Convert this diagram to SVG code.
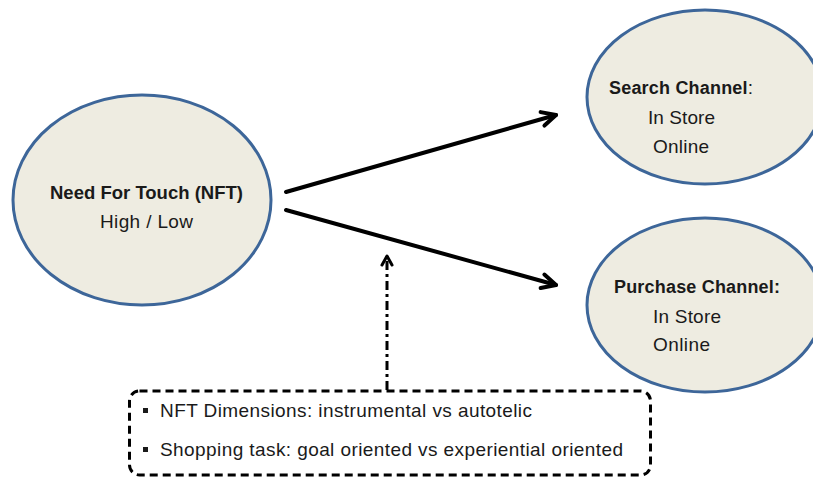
<svg xmlns="http://www.w3.org/2000/svg" width="813" height="477" viewBox="0 0 813 477">
<style>
.node ellipse{fill:#EEECE1;stroke:#3D6699;stroke-width:3}
text{font-family:"Liberation Sans",Arial,sans-serif;font-size:19px;fill:#1a1a1a}
.b{font-weight:bold;font-size:18px}
.conn{fill:none;stroke:#000;stroke-width:4;stroke-linecap:round}
.dd{fill:none;stroke:#000;stroke-width:3;stroke-dasharray:9 4 3 4}
.box{fill:none;stroke:#000;stroke-width:3;stroke-dasharray:8 5}
</style>
<defs>
<marker id="ah" markerUnits="userSpaceOnUse" viewBox="-20 -12 24 24" refX="0" refY="0" markerWidth="24" markerHeight="24" orient="auto">
<path d="M -14 -7 L 0 0 L -14 7" fill="none" stroke="#000" stroke-width="4" stroke-linecap="round" stroke-linejoin="round"/>
</marker>
<marker id="ah2" markerUnits="userSpaceOnUse" viewBox="-16 -10 20 20" refX="0" refY="0" markerWidth="20" markerHeight="20" orient="auto">
<path d="M -9 -5 L 0 0 L -9 5" fill="none" stroke="#000" stroke-width="3" stroke-linecap="round" stroke-linejoin="round"/>
</marker>
</defs>
<g id="connectors">
<line class="conn" x1="286" y1="192" x2="556" y2="115" marker-end="url(#ah)"/>
<line class="conn" x1="286" y1="210" x2="556" y2="285" marker-end="url(#ah)"/>
<line class="dd" x1="387" y1="390" x2="387" y2="256" marker-end="url(#ah2)"/>
</g>
<g id="nft" class="node">
<ellipse cx="142" cy="200" rx="129" ry="105"/>
<text class="b" x="50" y="199" textLength="193" lengthAdjust="spacingAndGlyphs">Need For Touch (NFT)</text>
<text x="100" y="228" textLength="93">High / Low</text>
</g>
<g id="search" class="node">
<ellipse cx="705" cy="97" rx="118" ry="87"/>
<text x="609" y="94" textLength="144"><tspan class="b">Search Channel</tspan>:</text>
<text x="648" y="124" textLength="67">In Store</text>
<text x="653" y="153" textLength="56">Online</text>
</g>
<g id="purchase" class="node">
<ellipse cx="705" cy="305" rx="118" ry="87"/>
<text class="b" x="614" y="293" textLength="166">Purchase Channel:</text>
<text x="653" y="323" textLength="68">In Store</text>
<text x="653" y="351" textLength="57">Online</text>
</g>
<g id="moderators">
<rect class="box" x="129.5" y="391" width="521" height="84" rx="10"/>
<rect x="143" y="408" width="5" height="5" fill="#1a1a1a"/>
<rect x="143" y="447" width="5" height="5" fill="#1a1a1a"/>
<text x="160" y="417" textLength="372">NFT Dimensions: instrumental vs autotelic</text>
<text x="160" y="456" textLength="463">Shopping task: goal oriented vs experiential oriented</text>
</g>
</svg>
